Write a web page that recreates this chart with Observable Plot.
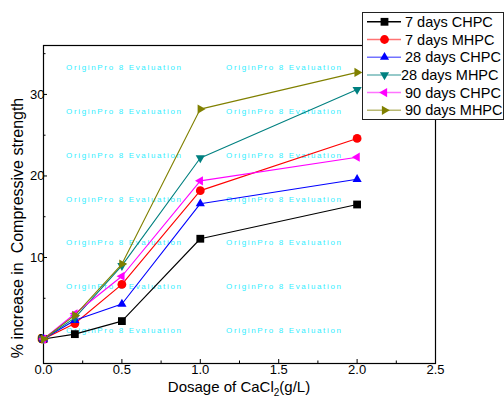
<!DOCTYPE html>
<html><head><meta charset="utf-8">
<script src="https://cdn.jsdelivr.net/npm/d3@7"></script>
<script src="https://cdn.jsdelivr.net/npm/@observablehq/plot@0.6"></script>
<style>
html,body{margin:0;padding:0;background:#fff;}
#chart{position:relative;width:504px;height:399px;}
</style>
</head><body><div id="chart"></div>
<script>
// ---- data ----
const dosage = [0, 0.2, 0.5, 1.0, 2.0];
const seriesNames = ["7 days CHPC", "7 days MHPC", "28 days CHPC", "28 days MHPC", "90 days CHPC", "90 days MHPC"];
const d7CHPC  = [0, 0.6, 2.2, 12.3, 16.5];
const d7MHPC  = [0, 1.9, 6.7, 18.2, 24.6];
const d28CHPC = [0, 2.3, 4.3, 16.6, 19.6];
const d28MHPC = [0, 2.6, 9.0, 22.2, 30.6];
const d90CHPC = [0, 3.1, 7.7, 19.4, 22.3];
const d90MHPC = [0, 2.9, 9.2, 28.2, 32.7];
const seriesValues = [d7CHPC, d7MHPC, d28CHPC, d28MHPC, d90CHPC, d90MHPC];
const seriesColors = ["#000000", "#ff0000", "#0000ff", "#008080", "#ff00ff", "#808000"];
const xTicks = [0, 0.5, 1.0, 1.5, 2.0, 2.5];
const xMinorTicks = [0.25, 0.75, 1.25, 1.75, 2.25];
const yTicks = [0, 10, 20, 30];
const yMinorTicks = [5, 15, 25, 35];
const xDomain = [0, 2.5];
const yDomain = [-3, 36];
const xLabelMain = "Dosage of CaCl";
const xLabelSub = "2";
const xLabelEnd = "(g/L)";
const yLabel = "% increase in\u00a0\u00a0Compressive strength";
const watermark = "OriginPro 8 Evaluation";

// ---- symbols ----
function triangle(angleDeg) {
  return {draw(ctx, size) {
    const R = Math.sqrt(size) * 0.68;
    for (let k = 0; k < 3; k++) {
      const a = (angleDeg + k * 120) * Math.PI / 180;
      const px = R * Math.cos(a), py = R * Math.sin(a);
      if (k === 0) ctx.moveTo(px, py); else ctx.lineTo(px, py);
    }
    ctx.closePath();
  }};
}
const seriesSymbols = [d3.symbolSquare, d3.symbolCircle, triangle(-90), triangle(90), triangle(180), triangle(0)];
const markerR = 4.4;

const rows = seriesNames.map((name, s) => dosage.map((x, i) => ({series: name, x, y: seriesValues[s][i]})));

const marks = [
  Plot.frame({stroke: "black", strokeWidth: 1.2}),
  Plot.axisX(xTicks, {tickSize: 0, tickPadding: 1, tickFormat: d3.format(".1f"), label: null, fontSize: 13}),
  Plot.axisX(xTicks, {tickSize: -4, fill: "none", label: null}),
  Plot.axisX(xMinorTicks, {tickSize: -2.5, fill: "none", label: null}),
  Plot.axisY(yTicks, {tickSize: 0, tickPadding: -1, label: null, fontSize: 13}),
  Plot.axisY(yTicks, {tickSize: -4, fill: "none", label: null}),
  Plot.axisY(yMinorTicks, {tickSize: -2.5, fill: "none", label: null})
];
rows.forEach((r, s) => {
  marks.push(Plot.line(r, {x: "x", y: "y", stroke: seriesColors[s], strokeWidth: 1.1}));
  marks.push(Plot.dot(r, {x: "x", y: "y", symbol: seriesSymbols[s], r: markerR, fill: seriesColors[s], stroke: "none"}));
});

const chart = Plot.plot({
  width: 504, height: 399,
  marginLeft: 43, marginRight: 69, marginTop: 45, marginBottom: 36,
  x: {domain: xDomain},
  y: {domain: yDomain},
  style: {fontFamily: "'Liberation Sans', Arial, sans-serif", fontSize: "13px", background: "white", color: "black"},
  marks
});
document.getElementById("chart").appendChild(chart);

const svg = d3.select(chart);
const font = "'Liberation Sans', Arial, sans-serif";

// watermark (behind the data)
const wm = svg.insert("g", ":first-child").attr("fill", "#33eeff").attr("font-size", 8)
  .attr("font-family", font).attr("text-anchor", "start");
const wmCols = [66, 226];
for (let r = 0; r < 7; r++) {
  for (const cx of wmCols) {
    wm.append("text").attr("x", cx).attr("y", 67 + r * 43.9).attr("dy", "0.35em")
      .attr("textLength", 115).attr("lengthAdjust", "spacing").text(watermark);
  }
}
svg.select("style").lower();

// axis labels
const xl = svg.append("text").attr("x", 239).attr("y", 392).attr("text-anchor", "middle")
  .attr("font-size", 15).attr("font-family", font).attr("fill", "black");
xl.append("tspan").text(xLabelMain);
xl.append("tspan").attr("font-size", 10).attr("dy", 4).text(xLabelSub);
xl.append("tspan").attr("dy", -4).text(xLabelEnd);

svg.append("text").attr("transform", "translate(23,228) rotate(-90)").attr("text-anchor", "middle")
  .attr("font-size", 16).attr("font-family", font).attr("fill", "black").text(yLabel);

// legend
const lg = svg.append("g").attr("font-family", font).attr("text-anchor", "start");
lg.append("rect").attr("x", 362.5).attr("y", 12.5).attr("width", 141).attr("height", 107)
  .attr("fill", "white").attr("stroke", "#222").attr("stroke-width", 1);
seriesNames.forEach((name, i) => {
  const y = 21.8 + i * 17.7;
  lg.append("line").attr("x1", 367).attr("x2", 401).attr("y1", y).attr("y2", y)
    .attr("stroke", seriesColors[i]).attr("stroke-opacity", i === 0 ? 1 : 0.55).attr("stroke-width", 1.5);
  lg.append("path").attr("transform", `translate(384.5,${y})`)
    .attr("d", d3.symbol().type(seriesSymbols[i]).size(Math.PI * markerR * markerR)())
    .attr("fill", seriesColors[i]);
  lg.append("text").attr("x", i === 3 ? 401 : 405).attr("y", y).attr("dy", "0.35em")
    .attr("font-size", 14.5).attr("fill", "black").text(name);
});
</script>
</body></html>
